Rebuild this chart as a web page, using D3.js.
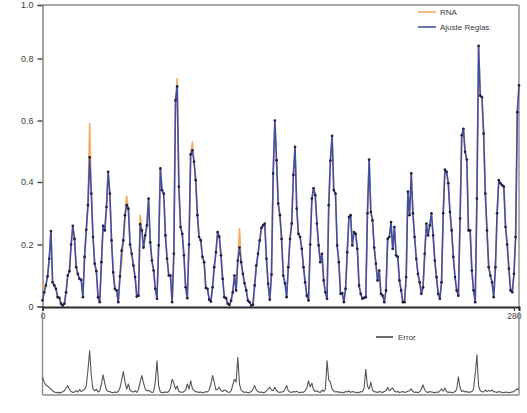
<!DOCTYPE html>
<html><head><meta charset="utf-8">
<script src="https://cdn.jsdelivr.net/npm/d3@7"></script>
<style>html,body{margin:0;padding:0;background:#fff;}svg{display:block;font-family:"Liberation Sans",Arial,sans-serif;}</style>
</head><body>
<svg id="chart" width="527" height="413"></svg>
<script>
const seriesNames = ["RNA", "Ajuste Reglas"];
const errorName = "Error";
const yTicks = [0, 0.2, 0.4, 0.6, 0.8, 1.0];
const yTickLabels = ["0", "0.2", "0.4", "0.6", "0.8", "1.0"];
const xTicks = [0, 280];

const ajuste = [
0.02,0.046,0.068,0.097,0.154,0.243,0.078,0.068,0.057,0.03,
0.028,0.009,0.003,0.009,0.046,0.1,0.114,0.2,0.26,0.218,
0.127,0.105,0.089,0.086,0.03,0.16,0.247,0.326,0.48,0.363,
0.224,0.138,0.114,0.03,0.014,0.143,0.26,0.245,0.32,0.433,
0.363,0.213,0.11,0.057,0.052,0.014,0.097,0.18,0.213,0.294,
0.326,0.315,0.2,0.17,0.132,0.095,0.032,0.035,0.265,0.245,
0.19,0.229,0.261,0.347,0.207,0.148,0.116,0.057,0.025,0.197,
0.444,0.374,0.363,0.229,0.154,0.1,0.1,0.014,0.17,0.665,
0.71,0.385,0.256,0.234,0.165,0.062,0.027,0.2,0.49,0.503,
0.466,0.406,0.294,0.224,0.213,0.16,0.143,0.06,0.057,0.022,
0.016,0.062,0.127,0.175,0.24,0.225,0.165,0.089,0.03,0.027,
0.009,0.005,0.019,0.046,0.1,0.052,0.148,0.19,0.143,0.105,
0.075,0.052,0.019,0.014,0.003,0.006,0.068,0.132,0.17,0.213,
0.253,0.261,0.267,0.154,0.073,0.022,0.103,0.428,0.6,0.471,
0.331,0.294,0.218,0.1,0.075,0.03,0.127,0.218,0.267,0.423,
0.514,0.315,0.234,0.224,0.186,0.127,0.078,0.035,0.019,0.2,
0.347,0.38,0.358,0.267,0.197,0.143,0.17,0.084,0.046,0.025,
0.326,0.47,0.55,0.374,0.363,0.197,0.143,0.041,0.043,0.014,
0.057,0.175,0.288,0.294,0.197,0.24,0.234,0.186,0.068,0.041,
0.025,0.028,0.03,0.3,0.473,0.304,0.277,0.19,0.138,0.084,
0.116,0.041,0.035,0.014,0.052,0.218,0.224,0.272,0.186,0.256,
0.165,0.16,0.084,0.052,0.014,0.014,0.095,0.369,0.294,0.428,
0.3,0.224,0.154,0.105,0.078,0.041,0.062,0.17,0.267,0.229,
0.261,0.3,0.229,0.148,0.095,0.041,0.025,0.078,0.3,0.44,
0.433,0.396,0.304,0.245,0.16,0.095,0.052,0.035,0.283,0.552,
0.573,0.498,0.473,0.245,0.245,0.116,0.052,0.014,0.347,0.847,
0.68,0.675,0.557,0.363,0.245,0.127,0.1,0.078,0.03,0.127,
0.3,0.406,0.396,0.39,0.385,0.256,0.2,0.122,0.052,0.046,
0.105,0.224,0.627,0.713
];

const rna = [
0.075,0.05,0.068,0.097,0.154,0.243,0.078,0.068,0.057,0.03,
0.028,0.009,0.003,0.009,0.046,0.1,0.114,0.2,0.26,0.218,
0.127,0.105,0.089,0.086,0.03,0.16,0.247,0.326,0.59,0.363,
0.224,0.138,0.114,0.03,0.014,0.143,0.26,0.245,0.32,0.433,
0.363,0.213,0.11,0.057,0.052,0.014,0.097,0.14,0.213,0.294,
0.355,0.315,0.2,0.17,0.132,0.095,0.032,0.035,0.294,0.245,
0.19,0.229,0.261,0.347,0.207,0.148,0.116,0.057,0.025,0.197,
0.444,0.374,0.363,0.229,0.154,0.1,0.1,0.014,0.17,0.665,
0.735,0.385,0.256,0.234,0.165,0.062,0.027,0.2,0.49,0.53,
0.466,0.406,0.294,0.224,0.213,0.16,0.143,0.06,0.057,0.022,
0.016,0.062,0.127,0.175,0.24,0.225,0.165,0.089,0.03,0.027,
0.009,0.005,0.019,0.046,0.1,0.052,0.148,0.25,0.143,0.105,
0.075,0.052,0.019,0.014,0.003,0.006,0.068,0.132,0.17,0.213,
0.253,0.261,0.267,0.154,0.073,0.022,0.103,0.428,0.6,0.471,
0.331,0.294,0.218,0.1,0.075,0.03,0.127,0.218,0.267,0.423,
0.514,0.315,0.234,0.224,0.186,0.127,0.078,0.035,0.019,0.2,
0.347,0.38,0.358,0.267,0.197,0.143,0.17,0.084,0.046,0.025,
0.326,0.47,0.55,0.374,0.363,0.197,0.143,0.041,0.043,0.014,
0.057,0.175,0.288,0.294,0.197,0.24,0.234,0.186,0.068,0.041,
0.025,0.028,0.03,0.3,0.473,0.304,0.277,0.19,0.138,0.084,
0.116,0.041,0.035,0.014,0.052,0.218,0.224,0.272,0.186,0.256,
0.165,0.16,0.084,0.052,0.014,0.014,0.095,0.369,0.294,0.428,
0.3,0.224,0.154,0.105,0.078,0.041,0.062,0.17,0.267,0.229,
0.261,0.3,0.229,0.148,0.095,0.041,0.025,0.078,0.3,0.44,
0.433,0.396,0.304,0.245,0.16,0.095,0.052,0.035,0.283,0.552,
0.573,0.498,0.473,0.245,0.245,0.116,0.052,0.014,0.347,0.847,
0.68,0.675,0.557,0.363,0.245,0.127,0.1,0.078,0.03,0.127,
0.3,0.406,0.396,0.39,0.385,0.256,0.2,0.122,0.052,0.046,
0.105,0.224,0.627,0.713
];

const errorVals = [
0.042,0.03,0.022,0.02,0.016,0.012,0.008,0.005,0.004,0.003,
0.004,0.003,0.006,0.008,0.015,0.021,0.012,0.006,0.004,0.005,
0.008,0.005,0.011,0.006,0.009,0.012,0.02,0.06,0.108,0.045,
0.012,0.008,0.012,0.005,0.008,0.025,0.048,0.026,0.01,0.007,
0.006,0.004,0.003,0.005,0.004,0.006,0.015,0.035,0.056,0.03,
0.012,0.025,0.01,0.006,0.005,0.008,0.004,0.012,0.03,0.046,
0.028,0.012,0.008,0.009,0.006,0.004,0.005,0.03,0.083,0.02,
0.005,0.003,0.004,0.005,0.004,0.006,0.015,0.037,0.028,0.012,
0.02,0.006,0.005,0.004,0.006,0.01,0.025,0.012,0.033,0.014,
0.008,0.006,0.005,0.004,0.005,0.003,0.004,0.006,0.005,0.01,
0.025,0.046,0.03,0.01,0.012,0.017,0.008,0.006,0.01,0.008,
0.005,0.004,0.008,0.022,0.037,0.03,0.092,0.025,0.009,0.006,
0.004,0.005,0.003,0.004,0.006,0.012,0.021,0.01,0.006,0.004,
0.005,0.003,0.004,0.008,0.012,0.017,0.01,0.008,0.017,0.009,
0.005,0.004,0.005,0.006,0.012,0.021,0.008,0.005,0.004,0.006,
0.005,0.007,0.004,0.003,0.005,0.004,0.008,0.015,0.033,0.018,
0.027,0.01,0.006,0.008,0.005,0.004,0.01,0.006,0.012,0.083,
0.035,0.029,0.012,0.007,0.005,0.006,0.004,0.005,0.003,0.004,
0.006,0.005,0.008,0.004,0.006,0.005,0.004,0.003,0.004,0.006,
0.005,0.015,0.062,0.02,0.012,0.029,0.01,0.006,0.005,0.004,
0.006,0.005,0.004,0.006,0.008,0.017,0.008,0.012,0.015,0.007,
0.005,0.006,0.004,0.005,0.006,0.004,0.005,0.007,0.008,0.013,
0.006,0.004,0.005,0.003,0.006,0.012,0.023,0.01,0.005,0.004,
0.006,0.005,0.004,0.003,0.005,0.004,0.008,0.013,0.007,0.015,
0.006,0.004,0.005,0.003,0.004,0.006,0.012,0.043,0.015,0.006,
0.008,0.005,0.006,0.004,0.005,0.006,0.012,0.05,0.098,0.02,
0.008,0.006,0.005,0.01,0.006,0.009,0.007,0.01,0.006,0.005,
0.004,0.006,0.005,0.004,0.003,0.005,0.004,0.003,0.004,0.005,
0.006,0.01,0.013,0.01
];

const svg = d3.select("#chart");
const left = 42.5, right = 519;
const topY = 5, baseY = 307;

const x = d3.scaleLinear().domain([0, ajuste.length - 1]).range([left, right]);
const y = d3.scaleLinear().domain(yTicks).range([306.5, 244.5, 182, 120.5, 58.5, topY]);
const yErr = d3.scaleLinear().domain([0, 0.2]).range([394, 314]);

const frameColor = "#8c8c8c";
const textColor = "#3a3a3a";

// top panel frame
svg.append("line").attr("x1", left).attr("x2", right).attr("y1", topY).attr("y2", topY)
  .attr("stroke", frameColor).attr("stroke-width", 1.6);
svg.append("line").attr("x1", right).attr("x2", right).attr("y1", topY).attr("y2", baseY)
  .attr("stroke", frameColor).attr("stroke-width", 1.4);

// y axis
const yAxis = d3.axisLeft(y).tickValues(yTicks).tickFormat((d, i) => yTickLabels[i]).tickSize(5).tickPadding(4);
const gy = svg.append("g").attr("transform", `translate(${left},0)`).call(yAxis);
gy.select(".domain").attr("stroke", frameColor).attr("stroke-width", 1.6);
gy.selectAll(".tick line").attr("stroke", "#444").attr("stroke-width", 1.4);
gy.selectAll(".tick text").attr("fill", textColor).style("font-size", "9px");

// x axis
const xAxis = d3.axisBottom(x).tickValues(xTicks).tickFormat(d3.format("d")).tickSize(4).tickPadding(2);
const gx = svg.append("g").attr("transform", `translate(0,${baseY})`).call(xAxis);
gx.select(".domain").attr("stroke", "#2a2a2a").attr("stroke-width", 2);
gx.selectAll(".tick line").attr("stroke", "#444").attr("stroke-width", 1.2);
gx.selectAll(".tick text").attr("fill", textColor).style("font-size", "8.5px");

// series
const line = d3.line().x((d, i) => x(i)).y(d => y(d));
svg.append("path").datum(rna).attr("d", line).attr("fill", "none")
  .attr("stroke", "#f4ac62").attr("stroke-width", 1.6).attr("stroke-linejoin", "round");
svg.append("path").datum(ajuste).attr("d", line).attr("fill", "none")
  .attr("stroke", "#4150a6").attr("stroke-width", 1.6).attr("stroke-linejoin", "round");
svg.append("g").selectAll("circle").data(ajuste).join("circle")
  .attr("cx", (d, i) => x(i)).attr("cy", d => y(d)).attr("r", 1.35).attr("fill", "#1e2440");

// legend top
const legItems = [{name: seriesNames[0], color: "#f4ac62", yy: 12}, {name: seriesNames[1], color: "#4150a6", yy: 27}];
legItems.forEach(l => {
  svg.append("line").attr("x1", 418).attr("x2", 436).attr("y1", l.yy).attr("y2", l.yy)
    .attr("stroke", l.color).attr("stroke-width", 1.6);
  svg.append("text").attr("x", 440).attr("y", l.yy + 3).text(l.name)
    .attr("fill", textColor).style("font-size", "8px");
});

// bottom panel
svg.append("line").attr("x1", left).attr("x2", left).attr("y1", 312).attr("y2", 395)
  .attr("stroke", frameColor).attr("stroke-width", 1.4);
svg.append("line").attr("x1", right).attr("x2", right).attr("y1", 312).attr("y2", 395)
  .attr("stroke", frameColor).attr("stroke-width", 1.4);
svg.append("line").attr("x1", left).attr("x2", right).attr("y1", 395).attr("y2", 395)
  .attr("stroke", frameColor).attr("stroke-width", 1.4);

const errLine = d3.line().x((d, i) => x(i)).y(d => yErr(d));
svg.append("path").datum(errorVals).attr("d", errLine).attr("fill", "none")
  .attr("stroke", "#555").attr("stroke-width", 1.1).attr("stroke-linejoin", "round");

svg.append("line").attr("x1", 376).attr("x2", 393).attr("y1", 337).attr("y2", 337)
  .attr("stroke", "#444").attr("stroke-width", 1.6);
svg.append("text").attr("x", 398).attr("y", 340).text(errorName)
  .attr("fill", textColor).style("font-size", "8px");
</script>
</body></html>
